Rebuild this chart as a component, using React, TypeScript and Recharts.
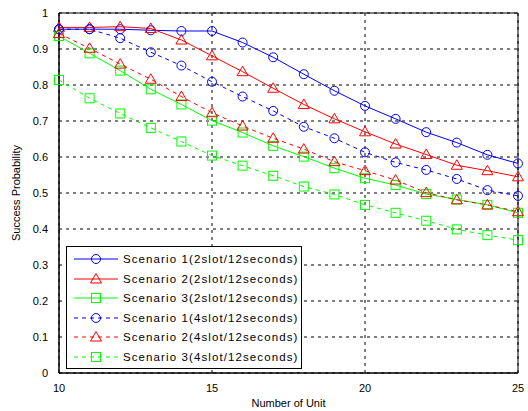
import React from "react";
import {
  LineChart,
  Line,
  XAxis,
  YAxis,
  CartesianGrid,
  Legend,
  ReferenceArea,
} from "recharts";

const units = [10, 11, 12, 13, 14, 15, 16, 17, 18, 19, 20, 21, 22, 23, 24, 25];

const s1Slot2 = [0.955, 0.955, 0.955, 0.952, 0.95, 0.95, 0.918, 0.877, 0.83, 0.784, 0.742, 0.706, 0.669, 0.64, 0.606, 0.582];
const s2Slot2 = [0.96, 0.96, 0.962, 0.957, 0.925, 0.881, 0.837, 0.791, 0.746, 0.706, 0.67, 0.636, 0.607, 0.577, 0.562, 0.545];
const s3Slot2 = [0.936, 0.888, 0.84, 0.788, 0.746, 0.701, 0.668, 0.631, 0.601, 0.569, 0.541, 0.522, 0.497, 0.482, 0.467, 0.445];
const s1Slot4 = [0.955, 0.955, 0.93, 0.891, 0.854, 0.809, 0.768, 0.728, 0.684, 0.652, 0.613, 0.585, 0.564, 0.539, 0.508, 0.492];
const s2Slot4 = [0.943, 0.902, 0.858, 0.816, 0.768, 0.723, 0.686, 0.652, 0.622, 0.587, 0.562, 0.536, 0.501, 0.481, 0.467, 0.448];
const s3Slot4 = [0.814, 0.763, 0.721, 0.681, 0.643, 0.604, 0.576, 0.548, 0.518, 0.496, 0.467, 0.445, 0.423, 0.399, 0.383, 0.369];

const xTicks = [10, 15, 20, 25];
const yTicks = [0, 0.1, 0.2, 0.3, 0.4, 0.5, 0.6, 0.7, 0.8, 0.9, 1];

const seriesList = [
  { key: "s1a", name: "Scenario 1(2slot/12seconds)", values: s1Slot2, color: "#0000ff", shape: "circle", dash: undefined },
  { key: "s2a", name: "Scenario 2(2slot/12seconds)", values: s2Slot2, color: "#ff0000", shape: "triangle", dash: undefined },
  { key: "s3a", name: "Scenario 3(2slot/12seconds)", values: s3Slot2, color: "#00ff00", shape: "square", dash: undefined },
  { key: "s1b", name: "Scenario 1(4slot/12seconds)", values: s1Slot4, color: "#0000ff", shape: "circle", dash: "4 4" },
  { key: "s2b", name: "Scenario 2(4slot/12seconds)", values: s2Slot4, color: "#ff0000", shape: "triangle", dash: "4 4" },
  { key: "s3b", name: "Scenario 3(4slot/12seconds)", values: s3Slot4, color: "#00ff00", shape: "square", dash: "4 4" },
];

const data = units.map((u, i) => {
  const row: any = { unit: u };
  seriesList.forEach((s) => {
    row[s.key] = s.values[i];
  });
  return row;
});

function Marker({ cx, cy, shape, color }: any) {
  if (cx == null || cy == null) return null;
  if (shape === "circle") {
    return <circle cx={cx} cy={cy} r={4.5} fill="none" stroke={color} strokeWidth={1} />;
  }
  if (shape === "triangle") {
    const pts = `${cx},${cy - 5.5} ${cx - 5.5},${cy + 4} ${cx + 5.5},${cy + 4}`;
    return <polygon points={pts} fill="none" stroke={color} strokeWidth={1} />;
  }
  return <rect x={cx - 4.5} y={cy - 4.5} width={9} height={9} fill="none" stroke={color} strokeWidth={1} />;
}

function LegendBox() {
  return (
    <div
      style={{
        width: 234,
        height: 121,
        border: "1px solid #000",
        background: "#fff",
        fontFamily: "Arial, 'Liberation Sans', sans-serif",
        fontSize: 11.5,
        position: "relative",
      }}
    >
      {seriesList.map((s, i) => (
        <div
          key={s.key}
          style={{ position: "absolute", left: 0, top: 2 + i * 19.6, height: 20, display: "flex", alignItems: "center", whiteSpace: "nowrap" }}
        >
          <svg width={56} height={20}>
            <line x1={7} y1={10} x2={51} y2={10} stroke={s.color} strokeWidth={1} strokeDasharray={s.dash} />
            <Marker cx={29} cy={10} shape={s.shape} color={s.color} />
          </svg>
          <span style={{ color: "#000", letterSpacing: 1.1 }}>{s.name}</span>
        </div>
      ))}
    </div>
  );
}

export default function App() {
  return (
    <div style={{ position: "absolute", left: 0, top: 0, background: "#fff" }}>
      <LineChart
        width={528}
        height={411}
        data={data}
        margin={{ top: 13, right: 10, left: 0, bottom: 0 }}
        style={{ fontFamily: "Arial, 'Liberation Sans', sans-serif" }}
      >
        <CartesianGrid stroke="#000" strokeDasharray="3 4" horizontalValues={yTicks} verticalValues={xTicks} />
        <XAxis
          dataKey="unit"
          type="number"
          domain={[10, 25]}
          ticks={xTicks}
          height={38}
          tickLine={false}
          axisLine={{ stroke: "#000" }}
          tick={{ fill: "#000", fontSize: 11 }}
          tickMargin={5}
          label={{ value: "Number of Unit", position: "insideBottom", offset: 4, fill: "#000", fontSize: 11 }}
        />
        <YAxis
          type="number"
          domain={[0, 1]}
          ticks={yTicks}
          width={59}
          tickLine={false}
          axisLine={{ stroke: "#000" }}
          tick={{ fill: "#000", fontSize: 11 }}
          tickMargin={5}
          tickFormatter={(v: number) => String(Math.round(v * 10) / 10)}
          label={{ value: "Success Probability", angle: -90, position: "insideLeft", offset: 16, fill: "#000", fontSize: 11, style: { textAnchor: "middle" } }}
        />
        <ReferenceArea x1={10} x2={25} y1={0} y2={1} fill="none" stroke="#000" strokeWidth={1} />
        {seriesList.map((s) => (
          <Line
            key={s.key}
            type="linear"
            dataKey={s.key}
            name={s.name}
            stroke={s.color}
            strokeWidth={1}
            strokeDasharray={s.dash}
            dot={(p: any) => <Marker key={`${s.key}-${p.index}`} cx={p.cx} cy={p.cy} shape={s.shape} color={s.color} />}
            activeDot={false}
            isAnimationActive={false}
          />
        ))}
        <Legend
          layout="horizontal"
          verticalAlign="middle"
          align="center"
          content={() => <LegendBox />}
          wrapperStyle={{ position: "absolute", left: 66, top: 246, width: 236, height: 123, bottom: "auto", right: "auto" }}
        />
      </LineChart>
    </div>
  );
}
